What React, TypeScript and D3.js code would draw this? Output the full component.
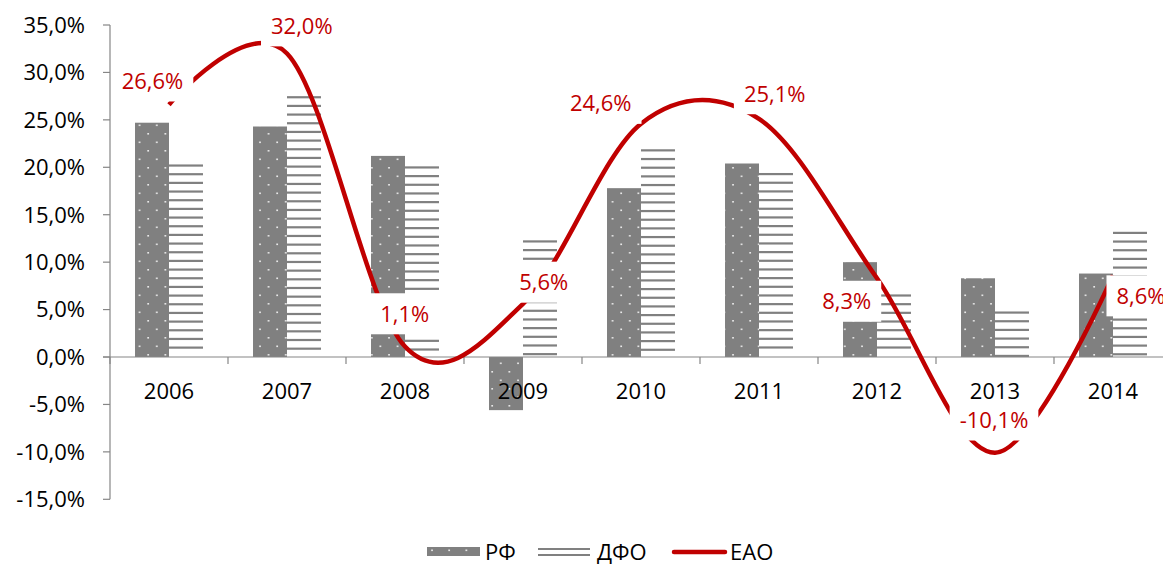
import React from 'react';
import * as d3 from 'd3';

const years = ['2006', '2007', '2008', '2009', '2010', '2011', '2012', '2013', '2014'];
const rf = [24.7, 24.3, 21.2, -5.6, 17.8, 20.4, 10.0, 8.3, 8.8];
const dfo = [20.3, 27.5, 20.1, 12.3, 21.9, 19.4, 6.6, 4.8, 13.2];
const eao = [26.6, 32.0, 1.1, 5.6, 24.6, 25.1, 8.3, -10.1, 8.6];
const yTicks = [-15, -10, -5, 0, 5, 10, 15, 20, 25, 30, 35];
const seriesNames = ['РФ', 'ДФО', 'ЕАО'];
// manual label nudges (pixels from the data point)
const labelNudge: [number, number][] = [
  [-16.5, -23.7], [14.8, -27.6], [-0.3, -32.8], [20.8, -21.7], [-40.3, -20.3],
  [15.7, -25.2], [-30.3, 23], [-1, -32.8], [28, 20.4],
];

const W = 1163, H = 564;
const FONT = '"Open Sans", "Noto Sans", sans-serif';
const FS = 22;
const RED = '#C00000';
const GRAY = '#808080';
const AXIS = '#868686';

const fmt = (v: number) => v.toFixed(1).replace('.', ',') + '%';

let ctx: CanvasRenderingContext2D | null = null;
function textW(s: string) {
  if (!ctx) ctx = document.createElement('canvas').getContext('2d');
  if (!ctx) return s.length * 12;
  ctx.font = `${FS}px "Open Sans"`;
  return ctx.measureText(s).width;
}

export default function App() {
  const x = d3.scaleBand<string>().domain(years).range([110, 1172]).paddingInner(0.424).paddingOuter(0.212);
  const y = d3.scaleLinear().domain([-15, 35]).range([499.3, 25]);
  const bw = x.bandwidth() / 2;
  const cx = (i: number) => (x(years[i]) as number) + bw;
  const y0 = y(0);

  const line = d3.line<number>()
    .x((_, i) => cx(i))
    .y((d) => y(d))
    .curve(d3.curveCardinal.tension(0));

  const step = x.step();
  const boundaries = d3.range(years.length + 1).map((i) => 110 + i * step);

  const hatchLines = (i: number) => {
    const top = y(Math.max(dfo[i], 0));
    const bottom = y(Math.min(dfo[i], 0));
    const ys: number[] = [];
    for (let yy = top; yy + 2 <= bottom; yy += 8.67) ys.push(yy);
    return ys;
  };

  return (
    <div style={{ position: 'fixed', left: 0, top: 0, background: '#fff' }}>
      <svg width={W} height={H} style={{ display: 'block' }} fontFamily={FONT}>
        <defs>
          <pattern id="dots" patternUnits="userSpaceOnUse" width={17.2} height={17}>
            <rect width={17.2} height={17} fill={GRAY} />
            <rect x={1.2} y={5.5} width={1.6} height={1.6} fill="#fff" opacity={0.9} />
            <rect x={9.8} y={14} width={1.6} height={1.6} fill="#fff" opacity={0.9} />
          </pattern>
        </defs>
        <rect width={W} height={H} fill="#fff" />

        {/* RF bars */}
        {rf.map((v, i) => (
          <rect key={'rf' + i} x={x(years[i]) as number} width={bw}
            y={y(Math.max(v, 0))} height={Math.abs(y(v) - y0)} fill="url(#dots)" />
        ))}
        {/* DFO bars */}
        {dfo.map((v, i) => (
          <g key={'dfo' + i}>
            {hatchLines(i).map((yy, k) => (
              <rect key={k} x={cx(i)} width={bw} y={yy} height={2.2} fill={GRAY} />
            ))}
          </g>
        ))}

        {/* axes */}
        <line x1={110} x2={110} y1={y(35)} y2={y(-15)} stroke={AXIS} strokeWidth={1.2} />
        {yTicks.map((t) => (
          <g key={t}>
            <line x1={103} x2={110} y1={y(t)} y2={y(t)} stroke={AXIS} strokeWidth={1.2} />
            <text x={85} y={y(t) + 7.8} textAnchor="end" fontSize={FS} fill="#000">{fmt(t)}</text>
          </g>
        ))}
        <line x1={103} x2={1172} y1={y0} y2={y0} stroke={AXIS} strokeWidth={1.2} />
        {boundaries.map((b, i) => (
          <line key={i} x1={b} x2={b} y1={y0} y2={y0 + 7} stroke={AXIS} strokeWidth={1.2} />
        ))}
        {years.map((yr, i) => (
          <text key={yr} x={cx(i)} y={399} textAnchor="middle" fontSize={FS} fill="#000">{yr}</text>
        ))}

        {/* EAO line */}
        <path d={line(eao) || ''} fill="none" stroke={RED} strokeWidth={4.5} strokeLinejoin="round" />

        {/* labels */}
        {eao.map((v, i) => {
          const s = fmt(v);
          const lx = cx(i) + labelNudge[i][0];
          const ly = y(v) + labelNudge[i][1];
          const tw = textW(s);
          return (
            <g key={'lab' + i}>
              <rect x={lx - tw / 2 - 10} y={ly - 20.5} width={tw + 20} height={41} fill="#fff" />
              <text x={lx} y={ly + 7.8} textAnchor="middle" fontSize={FS} fill={RED}>{s}</text>
            </g>
          );
        })}

        {/* legend */}
        <g>
          <rect x={427} y={547} width={53} height={9} fill="url(#dots)" />
          <text x={485} y={559.5} fontSize={FS} fill="#000">{seriesNames[0]}</text>
          <rect x={538} y={548} width={52} height={2} fill={GRAY} />
          <rect x={538} y={554} width={52} height={2} fill={GRAY} />
          <text x={597} y={559.5} fontSize={FS} fill="#000">{seriesNames[1]}</text>
          <line x1={674} x2={725} y1={552} y2={552} stroke={RED} strokeWidth={4.5} strokeLinecap="round" />
          <text x={730} y={559.5} fontSize={FS} fill="#000">{seriesNames[2]}</text>
        </g>
      </svg>
    </div>
  );
}
